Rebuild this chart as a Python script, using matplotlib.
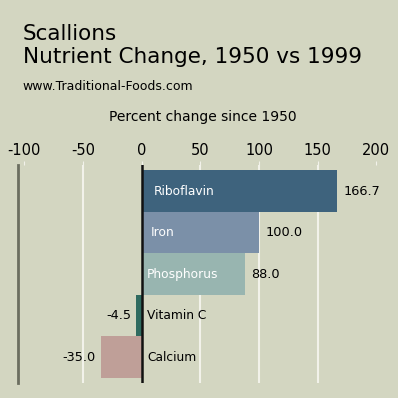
import numpy as np
import matplotlib
matplotlib.use("Agg")
import matplotlib.pyplot as plt

plt.rcParams["axes.unicode_minus"] = False

nutrients = ["Riboflavin", "Iron", "Phosphorus", "Vitamin C", "Calcium"]
change = [166.7, 100.0, 88.0, -4.5, -35.0]
colors = ["#3e637d", "#7b90a8", "#98b5b0", "#2f6b60", "#bf9f98"]
ticks = [-100, -50, 0, 50, 100, 150, 200]
name_x = [10, 8, 4.5, 4.5, 4.5]  # where the name starts inside/next to the bar

bg = "#d3d6c1"
fig = plt.figure(figsize=(3.98, 3.98), dpi=100, facecolor=bg)
ax = fig.add_axes([0.0445, 0.0377, 0.930, 0.548])
ax.set_facecolor(bg)

y = np.arange(len(nutrients))
ax.barh(y, change, height=1.0, color=colors, zorder=2)
for g in [-50, 50, 100, 150]:
    ax.axvline(g, color="#f2f2ea", lw=1.5, zorder=1)
ax.axvline(0, color="#111111", lw=1.8, zorder=3)

for i, (n, v) in enumerate(zip(nutrients, change)):
    if v > 0:
        ax.text(name_x[i], i, n, color="white", fontsize=8.8, va="center", ha="left", zorder=4)
        ax.text(v + 5.5, i, f"{v:.1f}", color="black", fontsize=9.3, va="center", ha="left")
    else:
        ax.text(v - 4, i, f"{v:.1f}", color="black", fontsize=9.3, va="center", ha="right")
        ax.text(name_x[i], i, n, color="black", fontsize=8.8, va="center", ha="left")

ax.set_xlim(-105.6, 209.8)
ax.set_ylim(len(nutrients) - 0.5 + 0.12, -0.5 - 0.13)
ax.set_yticks([])
ax.set_xticks(ticks)
ax.xaxis.tick_top()
ax.tick_params(axis="x", length=3, color="#f2f2ea", labelsize=10.5, pad=2)
ax.set_xlabel("Percent change since 1950", fontsize=10, labelpad=16)
ax.xaxis.set_label_position("top")
for s in ["top", "right", "bottom"]:
    ax.spines[s].set_visible(False)
ax.spines["left"].set_color("#6b6e60")
ax.spines["left"].set_linewidth(2)

fig.text(0.057, 0.8995, "Scallions", fontsize=15.5, va="baseline")
fig.text(0.057, 0.842, "Nutrient Change, 1950 vs 1999", fontsize=15.5, va="baseline")
fig.text(0.057, 0.774, "www.Traditional-Foods.com", fontsize=9, va="baseline")

fig.savefig("out.png", dpi=100, facecolor=bg)
